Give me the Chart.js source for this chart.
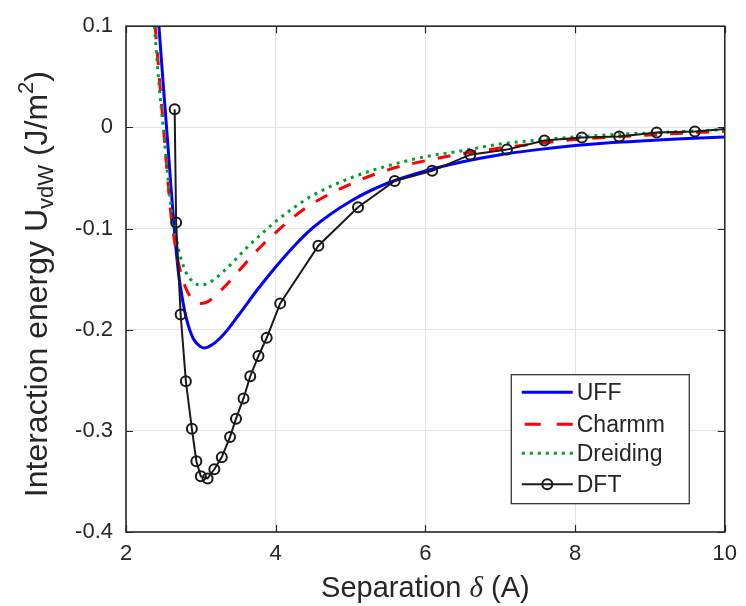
<!DOCTYPE html>
<html>
<head>
<meta charset="utf-8">
<script src="https://cdn.jsdelivr.net/npm/chart.js@4.4.1/dist/chart.umd.min.js"></script>
<style>
  html, body { margin: 0; padding: 0; background: #ffffff; }
  #wrap { width: 746px; height: 606px; }
</style>
</head>
<body>
<div id="wrap"><canvas id="c" width="746" height="606"></canvas></div>
<script>
// Separation (Å) and van der Waals interaction energy (J/m^2) per model
const uffX = [2.44, 2.50, 2.55, 2.60, 2.65, 2.70, 2.75, 2.80, 2.90, 3.00, 3.05, 3.15, 3.30, 3.50, 3.75, 4.00, 4.25, 4.50, 5.00, 5.50, 6.00, 6.50, 7.00, 7.50, 8.00, 8.50, 9.00, 9.50, 10.00];
const uffY = [0.100, 0.040, -0.008, -0.058, -0.105, -0.143, -0.168, -0.187, -0.209, -0.217, -0.218, -0.215, -0.205, -0.186, -0.161, -0.138, -0.117, -0.099, -0.073, -0.055, -0.043, -0.034, -0.027, -0.022, -0.018, -0.015, -0.013, -0.011, -0.0095];

const charmmX = [2.39, 2.45, 2.50, 2.55, 2.60, 2.65, 2.70, 2.80, 2.90, 3.00, 3.10, 3.20, 3.40, 3.60, 3.80, 4.00, 4.25, 4.50, 5.00, 5.50, 6.00, 6.50, 7.00, 7.50, 8.00, 8.50, 9.00, 9.50, 10.00];
const charmmY = [0.100, 0.045, 0.000, -0.045, -0.086, -0.113, -0.134, -0.159, -0.171, -0.174, -0.172, -0.166, -0.151, -0.134, -0.118, -0.104, -0.088, -0.075, -0.056, -0.042, -0.033, -0.026, -0.0205, -0.016, -0.012, -0.0095, -0.0075, -0.0055, -0.004];

const dreidingX = [2.38, 2.44, 2.50, 2.55, 2.60, 2.65, 2.70, 2.80, 2.90, 3.00, 3.10, 3.20, 3.40, 3.60, 3.80, 4.00, 4.25, 4.50, 5.00, 5.50, 6.00, 6.50, 7.00, 7.50, 8.00, 8.50, 9.00, 9.50, 10.00];
const dreidingY = [0.100, 0.043, -0.002, -0.042, -0.077, -0.101, -0.120, -0.143, -0.153, -0.156, -0.154, -0.149, -0.1355, -0.120, -0.106, -0.093, -0.079, -0.067, -0.050, -0.038, -0.029, -0.023, -0.0165, -0.0125, -0.0095, -0.0072, -0.0055, -0.0038, -0.0022];

const dftX = [2.65, 2.67, 2.73, 2.80, 2.88, 2.94, 3.00, 3.09, 3.18, 3.28, 3.39, 3.47, 3.57, 3.66, 3.77, 3.88, 4.06, 4.57, 5.10, 5.59, 6.09, 6.60, 7.09, 7.59, 8.09, 8.59, 9.09, 9.60, 10.10];
const dftY = [0.018, -0.094, -0.185, -0.251, -0.298, -0.330, -0.345, -0.347, -0.338, -0.326, -0.306, -0.288, -0.268, -0.246, -0.226, -0.208, -0.174, -0.117, -0.079, -0.053, -0.043, -0.027, -0.022, -0.013, -0.010, -0.009, -0.005, -0.004, -0.001];

const seriesNames = ['UFF', 'Charmm', 'Dreiding', 'DFT'];

const xTickValues = [2, 4, 6, 8, 10];
const xTickLabels = ['2', '4', '6', '8', '10'];
const yTickValues = [0.1, 0, -0.1, -0.2, -0.3, -0.4];
const yTickLabels = ['0.1', '0', '-0.1', '-0.2', '-0.3', '-0.4'];

const xTitleParts = ['Separation ', '\u03B4', ' (A)'];
const yTitleParts = ['Interaction energy U', 'vdW', ' (J/m', '2', ')'];

const textColor = '#262626';
const sans = '"Liberation Sans", Arial, Helvetica, sans-serif';

// desired plot box inside the 746x606 canvas
const plotBox = { left: 126, top: 15, right: 730, bottom: 532 };

const zip = (xs, ys) => xs.map((x, i) => ({ x: x, y: ys[i] }));

const datasets = [
  {
    label: seriesNames[0], data: zip(uffX, uffY),
    borderColor: '#0000ff', borderWidth: 3, pointRadius: 0,
    cubicInterpolationMode: 'monotone', order: 3
  },
  {
    label: seriesNames[1], data: zip(charmmX, charmmY),
    borderColor: '#ff0000', borderWidth: 3, borderDash: [13, 13], pointRadius: 0,
    cubicInterpolationMode: 'monotone', order: 2
  },
  {
    label: seriesNames[2], data: zip(dreidingX, dreidingY),
    borderColor: '#00a030', borderWidth: 3, borderDash: [3, 5], pointRadius: 0,
    cubicInterpolationMode: 'monotone', order: 1
  },
  {
    label: seriesNames[3], data: zip(dftX, dftY),
    borderColor: '#1a1a1a', borderWidth: 2, tension: 0,
    pointRadius: 5, pointBorderWidth: 2, pointBorderColor: '#1a1a1a',
    pointBackgroundColor: 'rgba(0,0,0,0)', order: 0
  }
];

// Box, inward tick marks, axis titles and the legend panel
const decorations = {
  id: 'decorations',
  afterDatasetsDraw(chart) {
    const { ctx, chartArea: a, scales: { x, y } } = chart;
    const tickLen = 7;
    ctx.save();

    // inward ticks on all four sides
    ctx.strokeStyle = textColor;
    ctx.lineWidth = 1.2;
    ctx.beginPath();
    xTickValues.forEach(v => {
      const px = Math.round(x.getPixelForValue(v)) + 0.5;
      ctx.moveTo(px, a.bottom); ctx.lineTo(px, a.bottom - tickLen);
      ctx.moveTo(px, a.top); ctx.lineTo(px, a.top + tickLen);
    });
    yTickValues.forEach(v => {
      const py = Math.round(y.getPixelForValue(v)) + 0.5;
      ctx.moveTo(a.left, py); ctx.lineTo(a.left + tickLen, py);
      ctx.moveTo(a.right, py); ctx.lineTo(a.right - tickLen, py);
    });
    ctx.stroke();

    // axes box
    ctx.lineWidth = 1.6;
    ctx.strokeRect(a.left, a.top, a.right - a.left, a.bottom - a.top);

    // legend panel
    const lg = { left: a.right - 214, top: a.top + 348, width: 178, height: 129 };
    ctx.fillStyle = '#ffffff';
    ctx.fillRect(lg.left, lg.top, lg.width, lg.height);
    ctx.lineWidth = 1.2;
    ctx.strokeStyle = textColor;
    ctx.strokeRect(lg.left + 0.5, lg.top + 0.5, lg.width, lg.height);
    const rowY = [18, 50, 79, 110];
    ctx.font = '23px ' + sans;
    ctx.textBaseline = 'middle';
    ctx.textAlign = 'left';
    datasets.forEach((ds, i) => {
      const yy = lg.top + rowY[i];
      const x0 = lg.left + 11, x1 = lg.left + 62;
      ctx.save();
      ctx.strokeStyle = ds.borderColor;
      ctx.lineWidth = ds.borderWidth;
      ctx.setLineDash(ds.borderDash || []);
      ctx.beginPath();
      if (ds.borderDash && ds.borderDash[0] > 5) {
        // dashed sample: two dashes
        ctx.setLineDash([]);
        ctx.moveTo(x0 + 3, yy); ctx.lineTo(x0 + 19, yy);
        ctx.moveTo(x1 - 16, yy); ctx.lineTo(x1, yy);
      } else {
        ctx.moveTo(x0, yy); ctx.lineTo(x1, yy);
      }
      ctx.stroke();
      if (ds.pointRadius > 0) {
        ctx.setLineDash([]);
        ctx.lineWidth = ds.pointBorderWidth;
        ctx.beginPath();
        ctx.arc((x0 + x1) / 2, yy, ds.pointRadius, 0, Math.PI * 2);
        ctx.stroke();
      }
      ctx.restore();
      ctx.fillStyle = textColor;
      ctx.fillText(ds.label, x1 + 4, yy + 1);
    });

    // x-axis title with italic delta
    const xFont = '29px ' + sans;
    const dFont = 'italic 29px "Liberation Serif", "DejaVu Serif", serif';
    ctx.fillStyle = textColor;
    ctx.textBaseline = 'alphabetic';
    ctx.font = xFont; const w0 = ctx.measureText(xTitleParts[0]).width;
    ctx.font = dFont; const w1 = ctx.measureText(xTitleParts[1]).width;
    ctx.font = xFont; const w2 = ctx.measureText(xTitleParts[2]).width;
    let cx = (a.left + a.right) / 2 - (w0 + w1 + w2) / 2;
    const base = 597;
    ctx.font = xFont; ctx.fillText(xTitleParts[0], cx, base); cx += w0;
    ctx.font = dFont; ctx.fillText(xTitleParts[1], cx, base); cx += w1;
    ctx.font = xFont; ctx.fillText(xTitleParts[2], cx, base);

    // y-axis title with subscript and superscript
    const mainF = '32px ' + sans, smallF = '22px ' + sans;
    const parts = [
      { t: yTitleParts[0], f: mainF, dy: 0 },
      { t: yTitleParts[1], f: smallF, dy: 6 },
      { t: yTitleParts[2], f: mainF, dy: 0 },
      { t: yTitleParts[3], f: smallF, dy: -14 },
      { t: yTitleParts[4], f: mainF, dy: 0 }
    ];
    let total = 0;
    parts.forEach(p => { ctx.font = p.f; p.w = ctx.measureText(p.t).width; total += p.w; });
    ctx.translate(47, (a.top + a.bottom) / 2 + 5);
    ctx.rotate(-Math.PI / 2);
    let px = -total / 2;
    parts.forEach(p => { ctx.font = p.f; ctx.fillText(p.t, px, p.dy); px += p.w; });

    ctx.restore();
  }
};

const chart = new Chart(document.getElementById('c'), {
  type: 'line',
  data: { datasets: datasets },
  options: {
    responsive: false,
    animation: false,
    events: [],
    layout: { padding: { left: 0, right: 16, top: 15, bottom: 0 } },
    plugins: { legend: { display: false }, tooltip: { enabled: false } },
    scales: {
      x: {
        type: 'linear', min: 2, max: 10,
        afterBuildTicks: s => { s.ticks = xTickValues.map(v => ({ value: v })); },
        afterFit: s => { s.height = 74; },
        ticks: {
          padding: 9, color: textColor, maxRotation: 0,
          font: { family: sans, size: 22 },
          callback: (v, i) => xTickLabels[i]
        },
        grid: { color: '#e2e2e2', lineWidth: 1, drawTicks: false },
        border: { display: false }
      },
      y: {
        type: 'linear', min: -0.4, max: 0.1,
        afterBuildTicks: s => { s.ticks = yTickValues.map(v => ({ value: v })); },
        afterFit: s => { s.width = 126; },
        ticks: {
          padding: 13, color: textColor,
          font: { family: sans, size: 22 },
          callback: (v, i) => yTickLabels[i]
        },
        grid: { color: '#e2e2e2', lineWidth: 1, drawTicks: false },
        border: { display: false }
      }
    }
  },
  plugins: [decorations]
});

// nudge the layout padding so the plot box lands exactly where wanted
for (let k = 0; k < 3; k++) {
  const ca = chart.chartArea;
  const p = chart.options.layout.padding;
  p.top += plotBox.top - ca.top;
  p.right += ca.right - plotBox.right;
  p.left += plotBox.left - ca.left;
  p.bottom += ca.bottom - plotBox.bottom;
  chart.update();
}
</script>
</body>
</html>
